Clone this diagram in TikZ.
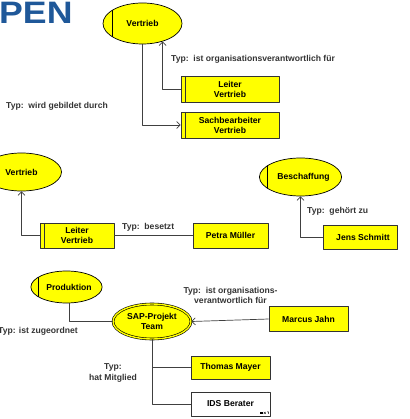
\documentclass[tikz,border=0pt]{standalone}
\usepackage{fontspec}
\setmainfont{Liberation Sans}
\newfontfamily\penfont[FakeStretch=1.15]{Liberation Sans}
\usetikzlibrary{shapes.geometric,arrows.meta}
\definecolor{penblue}{RGB}{31,88,153}
\definecolor{boxyellow}{RGB}{255,255,0}
\begin{document}
\begin{tikzpicture}[x=1pt, y=-1pt, line join=round, >={Straight Barb[length=3.5pt,width=7pt]},
		font=\bfseries\fontsize{8.6}{10}\selectfont,
		orgellipse/.style={ellipse, draw=black, line width=0.7pt, fill=boxyellow, inner sep=0pt, align=center},
		orgline/.style={path picture={\draw[line width=0.8pt] ([xshift=#1]path picture bounding box.north west) -- ([xshift=#1]path picture bounding box.south west);}},
		stelle/.style={rectangle, draw=black!80, line width=0.8pt, fill=boxyellow, inner sep=0pt, align=center},
		posbox/.style={orgline=4pt},
		verbind/.style={draw=black!75, line width=0.7pt},
		typlabel/.style={text=black!80, inner sep=0pt, align=center}]
				\useasboundingbox (0,0) rectangle (409,419);
				\node[anchor=base west, inner sep=0pt, text=penblue, font=\penfont\bfseries\fontsize{31}{31}\selectfont] (titel) at (-1,24) {PEN};
				% Vertrieb oben
				\node[orgellipse, orgline=9pt, minimum width=79pt, minimum height=41pt] (V1) at (142.5,23.5) {Vertrieb};
				\node[stelle, posbox, minimum width=98pt, minimum height=26pt] (L1) at (230,89) {Leiter\\Vertrieb};
				\node[stelle, posbox, minimum width=98pt, minimum height=26pt] (S1) at (230,125) {Sachbearbeiter\\Vertrieb};
				\draw[verbind, ->] (L1.west) -| (V1.-42);
				\draw[verbind, ->] (V1.south) |- (S1.west);
				\node[typlabel, anchor=west] (t1) at (171,59) {Typ:\ \ ist organisationsverantwortlich für};
				\node[typlabel, anchor=west] (t2) at (6,106) {Typ:\ \ wird gebildet durch};
				% Vertrieb Mitte
				\node[orgellipse, orgline=9pt, minimum width=80pt, minimum height=38pt] (V2) at (21.5,172) {Vertrieb};
				\node[stelle, posbox, minimum width=74pt, minimum height=25pt] (L2) at (77,235.5) {Leiter\\Vertrieb};
				\node[stelle, minimum width=75pt, minimum height=25pt] (P) at (230.5,235.5) {Petra Müller};
				\draw[verbind, ->] (L2.west) -| (V2.south);
				\draw[verbind] (L2.east) -- (P.west);
				\node[typlabel, anchor=west] (t3) at (122,227) {Typ:\ \ besetzt};
				% Beschaffung
				\node[orgellipse, orgline=8pt, minimum width=74pt, minimum height=38pt] (B) at (300.5,177) {\hspace*{6pt}Beschaffung};
				\node[stelle, minimum width=74pt, minimum height=24pt] (J) at (360,237) {\hspace*{6pt}Jens Schmitt};
				\draw[verbind, ->] (J.west) -| (B.south);
				\node[typlabel, anchor=west] (t4) at (307,211) {Typ:\ \ gehört zu};
				% SAP-Projekt
				\node[orgellipse, orgline=8pt, minimum width=71pt, minimum height=32pt] (Pr) at (66.5,287) {\hspace*{5pt}Produktion};
				\node[orgellipse, double=boxyellow, double distance=1.4pt, line width=0.6pt, minimum width=78pt, minimum height=35pt] (SAP) at (152,321.5) {SAP-Projekt\\Team};
				\node[stelle, minimum width=79pt, minimum height=25pt] (M) at (308.5,319) {Marcus Jahn};
				\node[stelle, minimum width=79pt, minimum height=23pt] (T) at (230.5,367.5) {Thomas Mayer};
				\node[stelle, fill=white, minimum width=79pt, minimum height=24pt] (I) at (230.5,404) {IDS Berater};
				\draw[verbind] (Pr.-80) |- (SAP.west);
				\draw[verbind, ->] (M.west) -- (SAP.east);
				\draw[verbind] (SAP.south) |- (T.west);
				\draw[verbind] (SAP.south) |- (I.west);
				\fill ([xshift=-10pt,yshift=2.5pt]I.south east) rectangle ++(2.2pt,2.2pt);
				\draw[line width=0.4pt] ([xshift=-6.6pt,yshift=2.5pt]I.south east) -- ++(2pt,2pt) ([xshift=-6.6pt,yshift=4.5pt]I.south east) -- ++(2pt,-2pt)
				([xshift=-3.4pt,yshift=4.5pt]I.south east) -- ++(1.6pt,0) -- ++(0,-2pt);
				\node[typlabel, anchor=west] (t5) at (-2,331) {Typ: ist zugeordnet};
				\node[typlabel, font=\bfseries\fontsize{8.6}{9.5}\selectfont] (t6) at (230.5,295.5) {Typ:\ \ ist organisations-\\verantwortlich für};
				\node[typlabel, font=\bfseries\fontsize{8.6}{11}\selectfont] (t7) at (113,372.5) {Typ:\\hat Mitglied};
			\end{tikzpicture}
\end{document}
